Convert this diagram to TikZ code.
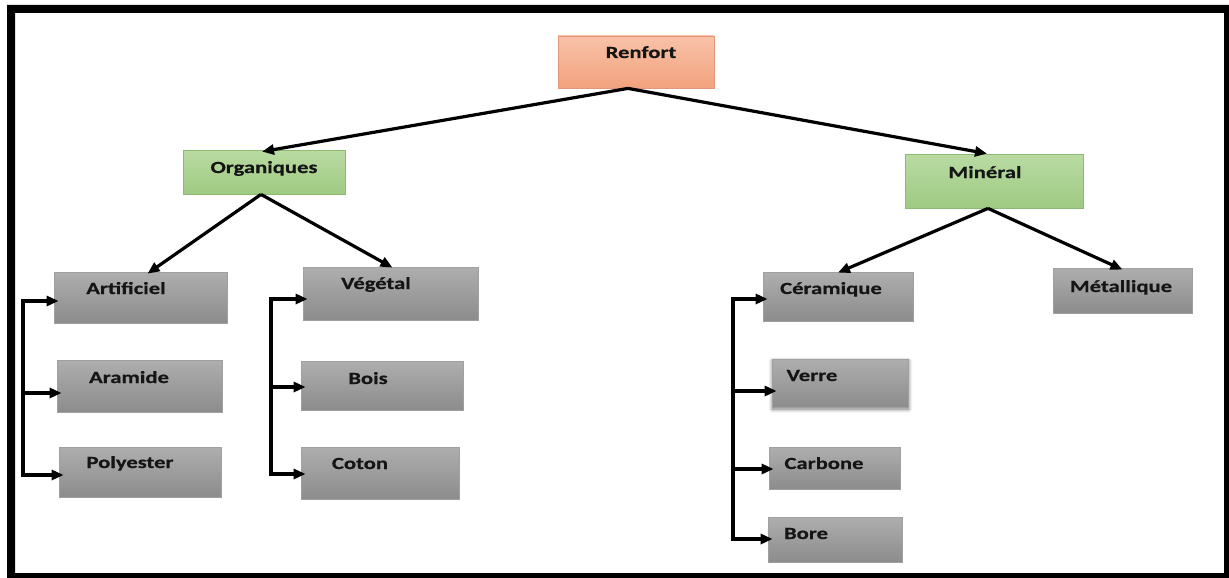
\documentclass[tikz,border=0pt]{standalone}
\usepackage{fontspec}
\newfontfamily\labfont{Carlito}[FakeStretch=1.33, BoldFeatures={FakeBold=0.6}]
\usetikzlibrary{arrows.meta,shadows.blur}

\definecolor{salmonTop}{HTML}{F8C2A8}
\definecolor{salmonBot}{HTML}{F2A27E}
\definecolor{salmonLine}{HTML}{E4967A}
\definecolor{greenTop}{HTML}{B9DBA3}
\definecolor{greenBot}{HTML}{9FCA82}
\definecolor{greenLine}{HTML}{8CBA70}
\definecolor{grayTop}{HTML}{AEAEAE}
\definecolor{grayBot}{HTML}{8C8C8C}
\definecolor{grayLine}{HTML}{A0A0A0}
\definecolor{ink}{HTML}{151515}

\tikzset{
  box/.style={rectangle, inner sep=0pt, line width=0.8pt},
  rootbox/.style={box, draw=salmonLine, top color=salmonTop, bottom color=salmonBot},
  greenbox/.style={box, draw=greenLine, top color=greenTop, bottom color=greenBot},
  graybox/.style={box, draw=grayLine, top color=grayTop, bottom color=grayBot},
  lbl/.style={anchor=base, inner sep=0pt, text=ink,
    font=\labfont\bfseries\fontsize{17}{20}\selectfont},
  arr/.style={draw=black, line width=3.2pt, -{Triangle[length=12pt,width=10pt]}},
  brk/.style={draw=black, line width=3.2pt, line join=miter,
    {Triangle[length=12pt,width=10pt]}-{Triangle[length=12pt,width=10pt]},
    shorten <=-5pt, shorten >=-5pt},
  brk1/.style={arr, shorten >=-5pt},
}

\begin{document}
\begin{tikzpicture}[x=1pt,y=-1pt]
\useasboundingbox (0,0) rectangle (1229,578);

% outer frame, heavier on the left and top
\fill[black, even odd rule] (7,5) rectangle (1229,578) (15,13) rectangle (1224,573);

% boxes
\node[rootbox, minimum width=156pt, minimum height=52pt] (renfort) at (636,62) {};
\node[greenbox, minimum width=162pt, minimum height=44pt] (org) at (264,172) {};
\node[greenbox, minimum width=178pt, minimum height=54pt] (min) at (994,181) {};

\node[graybox, minimum width=173pt, minimum height=51pt] (artif) at (140.5,297.5) {};
\node[graybox, minimum width=165pt, minimum height=52pt] (aram) at (139.5,386) {};
\node[graybox, minimum width=162pt, minimum height=50pt] (poly) at (140,472) {};

\node[graybox, minimum width=175pt, minimum height=53pt] (veg) at (390.5,293.5) {};
\node[graybox, minimum width=162pt, minimum height=49pt] (bois) at (382,385.5) {};
\node[graybox, minimum width=158pt, minimum height=52pt] (coton) at (380,473) {};

\node[graybox, minimum width=150pt, minimum height=49pt] (ceram) at (838,296.5) {};
\node[graybox, minimum width=136pt, minimum height=48pt,
  blur shadow={shadow xshift=0.5pt, shadow yshift=-2pt, shadow blur steps=8, shadow blur radius=4pt, shadow opacity=55}]
  (verre) at (840,383) {};
\node[graybox, minimum width=131pt, minimum height=42pt] (carb) at (834.5,468) {};
\node[graybox, minimum width=134pt, minimum height=45pt] (bore) at (835,539.5) {};

\node[graybox, minimum width=139pt, minimum height=45pt] (metal) at (1122.5,290.5) {};

% labels
\node[lbl] (renfort-t) at (641,58) {Renfort};
\node[lbl] (org-t) at (264,173) {Organiques};
\node[lbl] (min-t) at (985,178) {Minéral};
\node[lbl] (artif-t) at (126,294) {Artificiel};
\node[lbl] (aram-t) at (129,383) {Aramide};
\node[lbl] (poly-t) at (130,468) {Polyester};
\node[lbl] (veg-t) at (376,289) {Végétal};
\node[lbl] (bois-t) at (368,384) {Bois};
\node[lbl] (coton-t) at (360,469) {Coton};
\node[lbl] (ceram-t) at (831,294) {Céramique};
\node[lbl] (verre-t) at (812,381) {Verre};
\node[lbl] (carb-t) at (824,469) {Carbone};
\node[lbl] (bore-t) at (806,539) {Bore};
\node[lbl] (metal-t) at (1121,292) {Métallique};

% tree connectors
\coordinate (rootfork) at ([xshift=-8pt]renfort.south);
\draw[arr] (rootfork) -- ([xshift=-2pt,yshift=-2pt]org.north);
\draw[arr] (rootfork) -- ([xshift=-7pt]min.north);

\coordinate (orgfork) at ([xshift=-3pt]org.south);
\draw[arr] (orgfork) -- ([xshift=7pt,yshift=-2pt]artif.north);
\draw[arr] (orgfork) -- ([xshift=2pt,yshift=-1pt]veg.north);

\coordinate (minfork) at ([xshift=-6pt]min.south);
\draw[arr] (minfork) -- ([yshift=-1pt]ceram.north);
\draw[arr] (minfork) -- ([yshift=-2pt]metal.north);

% side brackets
\coordinate (a1) at (23,301);
\coordinate (a2) at (23,393);
\coordinate (a3) at (23,475);
\draw[brk] (a1 -| artif.west) -- (a1) -- (a3) -- (a3 -| poly.west);
\draw[brk1] (a2) -- (a2 -| aram.west);

\coordinate (v1) at (271,299);
\coordinate (v2) at (271,387);
\coordinate (v3) at (271,474);
\draw[brk] (v1 -| veg.west) -- (v1) -- (v3) -- (v3 -| coton.west);
\draw[brk1] (v2) -- (v2 -| bois.west);

\coordinate (c1) at (733,299);
\coordinate (c2) at (733,391);
\coordinate (c3) at (733,469);
\coordinate (c4) at (733,539);
\draw[brk] (c1 -| ceram.west) -- (c1) -- (c4) -- (c4 -| bore.west);
\draw[brk1] (c2) -- (c2 -| verre.west);
\draw[brk1] (c3) -- (c3 -| carb.west);
\end{tikzpicture}
\end{document}
